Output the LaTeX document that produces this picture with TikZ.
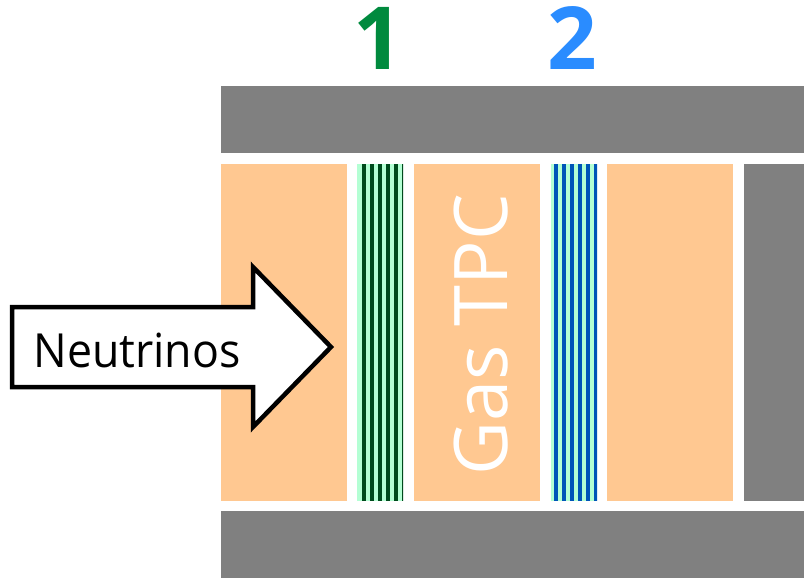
\documentclass[tikz,border=0pt]{standalone}
\usepackage{fontspec}
\setmainfont{Open Sans}
\definecolor{tpcorange}{HTML}{FFC891}
\definecolor{wallgray}{HTML}{808080}
\definecolor{stripbg}{HTML}{B4FFD4}
\definecolor{darkgreen}{HTML}{004A1C}
\definecolor{darkblue}{HTML}{0055B8}
\definecolor{labgreen}{HTML}{008A3E}
\definecolor{labblue}{HTML}{2A8CFF}
\tikzset{
  wall/.style={fill=wallgray, draw=none},
  tpc/.style={fill=tpcorange, draw=none},
  stripbase/.style={fill=stripbg, draw=none},
  numlabel/.style={font=\bfseries\fontsize{87}{87}\selectfont, inner sep=0pt, anchor=base},
}
\begin{document}
\begin{tikzpicture}[x=1pt,y=-1pt]
\useasboundingbox (0,0) rectangle (804,578);
% gray walls
\fill[wall] (221,86) rectangle (804,153);
\fill[wall] (221,511) rectangle (804,578);
\fill[wall] (744,164) rectangle (804,501);
% orange TPC blocks
\fill[tpc] (221,164) rectangle (347,501);
\fill[tpc] (414,164) rectangle (540,501);
\fill[tpc] (607,164) rectangle (733,501);
% strip 1
\fill[stripbase] (357,164) rectangle (403,501);
\begin{scope}
\clip (357,164) rectangle (403,501);
\foreach \k in {0,...,5} {
  \fill[darkgreen] ({361.5+8*\k},164) rectangle ({365.8+8*\k},501);
}
\end{scope}
% strip 2
\fill[stripbase] (551,164) rectangle (597,501);
\begin{scope}
\clip (551,164) rectangle (597,501);
\foreach \k in {0,...,5} {
  \fill[darkblue] ({554+8*\k},164) rectangle ({558+8*\k},501);
}
\end{scope}
% labels
\node[numlabel, text=labgreen] (one) at (378,70) {1};
\node[numlabel, text=labblue] (two) at (572,70) {2};
% Gas TPC
\node[text=white, inner sep=0pt, anchor=base, rotate=90,
      font=\fontsize{74}{74}\selectfont] (gastpc) at (507,335) {Gas TPC};
% arrow
\draw[line width=4.5pt, miter limit=10, fill=white]
  (12,307) -- (253,307) -- (253,267) -- (331,347) -- (253,427) -- (253,387) -- (12,387) -- cycle;
\node[inner sep=0pt, anchor=base, xscale=0.95, font=\fontsize{47}{47}\selectfont] (neutrinos) at (137,367) {Neutrinos};
\end{tikzpicture}
\end{document}
